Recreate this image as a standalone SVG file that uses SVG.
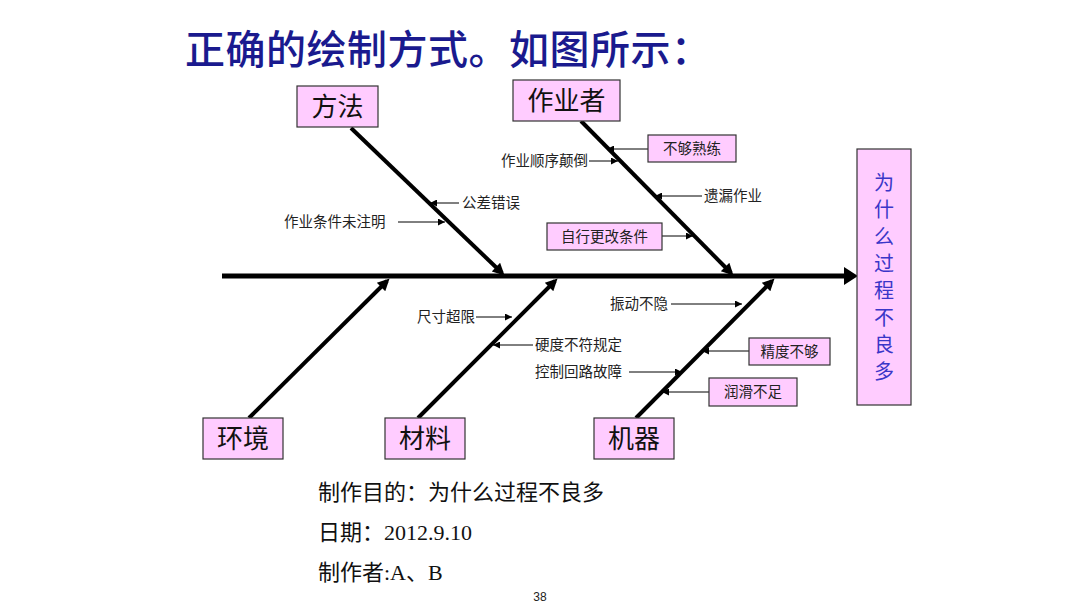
<svg xmlns="http://www.w3.org/2000/svg" width="1080" height="608" viewBox="0 0 1080 608">
<style>
.title{font-family:"Noto Sans CJK SC",sans-serif;font-size:40px;font-weight:500;fill:#1a1a8e}
.box{fill:#ffccff;stroke:#333;stroke-width:1.2}
.lbl{font-family:"Noto Sans CJK SC",sans-serif;font-size:26px;fill:#111;text-anchor:middle}
.sm{font-family:"Noto Sans CJK SC",sans-serif;font-size:14.5px;fill:#222}
.head{font-family:"Noto Sans CJK SC",sans-serif;font-size:20px;fill:#3a36c8;text-anchor:middle}
.note{font-family:"Liberation Serif","Noto Sans CJK SC",serif;font-size:22px;fill:#111}
.bone{stroke:#000;stroke-width:4;fill:none}
.sub{stroke:#000;stroke-width:1;fill:none}
</style>
<defs>
<marker id="big" viewBox="0 0 10 10" refX="7" refY="5" markerUnits="userSpaceOnUse" markerWidth="14" markerHeight="12" orient="auto">
<path d="M0,0 L10,5 L0,10 z" fill="#000"/>
</marker>
<marker id="sa" viewBox="0 0 10 10" refX="10" refY="5" markerUnits="userSpaceOnUse" markerWidth="9" markerHeight="7" orient="auto">
<path d="M0,0 L10,5 L0,10 z" fill="#000"/>
</marker>
</defs>
<rect width="1080" height="608" fill="#fff"/>
<text class="title" x="185" y="64" letter-spacing="0.5">正确的绘制方式。如图所示：</text>

<g id="connectors">
<line x1="222" y1="276" x2="846" y2="276" stroke="#000" stroke-width="5"/>
<path d="M844,267 L858,276 L844,285 z" fill="#000"/>
<line class="bone" x1="351" y1="128" x2="502" y2="273" marker-end="url(#big)"/>
<line class="bone" x1="581" y1="121" x2="731" y2="273" marker-end="url(#big)"/>
<line class="bone" x1="249" y1="418" x2="387" y2="281" marker-end="url(#big)"/>
<line class="bone" x1="418" y1="418" x2="555" y2="281" marker-end="url(#big)"/>
<line class="bone" x1="636" y1="418" x2="772" y2="281" marker-end="url(#big)"/>
<line class="sub" x1="459" y1="203" x2="430" y2="203" marker-end="url(#sa)"/>
<line class="sub" x1="398" y1="222" x2="445" y2="222" marker-end="url(#sa)"/>
<line class="sub" x1="589" y1="161" x2="618" y2="161" marker-end="url(#sa)"/>
<line class="sub" x1="648" y1="149" x2="607" y2="149" marker-end="url(#sa)"/>
<line class="sub" x1="702" y1="196" x2="655" y2="196" marker-end="url(#sa)"/>
<line class="sub" x1="662" y1="236" x2="693" y2="236" marker-end="url(#sa)"/>
<line class="sub" x1="476" y1="317" x2="512" y2="317" marker-end="url(#sa)"/>
<line class="sub" x1="533" y1="345" x2="493" y2="345" marker-end="url(#sa)"/>
<line class="sub" x1="629" y1="372" x2="682" y2="372" marker-end="url(#sa)"/>
<line class="sub" x1="671" y1="304" x2="742" y2="304" marker-end="url(#sa)"/>
<line class="sub" x1="749" y1="351" x2="702" y2="351" marker-end="url(#sa)"/>
<line class="sub" x1="709" y1="392" x2="662" y2="392" marker-end="url(#sa)"/>
</g>

<g id="head">
<rect class="box" x="857" y="149" width="54" height="256"/>
<text class="head" x="884" y="190">为</text>
<text class="head" x="884" y="217">什</text>
<text class="head" x="884" y="244">么</text>
<text class="head" x="884" y="271">过</text>
<text class="head" x="884" y="298">程</text>
<text class="head" x="884" y="325">不</text>
<text class="head" x="884" y="352">良</text>
<text class="head" x="884" y="379">多</text>
</g>

<g id="fangfa"><rect class="box" x="297" y="86" width="81" height="41"/><text class="lbl" x="337.5" y="116">方法</text></g>
<g id="zuoyezhe"><rect class="box" x="513" y="80" width="107" height="41"/><text class="lbl" x="566.5" y="110">作业者</text></g>
<g id="huanjing"><rect class="box" x="203" y="418" width="80" height="41"/><text class="lbl" x="243" y="448">环境</text></g>
<g id="cailiao"><rect class="box" x="385" y="418" width="80" height="41"/><text class="lbl" x="425" y="448">材料</text></g>
<g id="jiqi"><rect class="box" x="594" y="418" width="80" height="41"/><text class="lbl" x="634" y="448">机器</text></g>

<g id="c1"><text class="sm" x="462" y="208">公差错误</text></g>
<g id="c2"><text class="sm" x="284" y="227">作业条件未注明</text></g>
<g id="c3"><text class="sm" x="588" y="166" text-anchor="end">作业顺序颠倒</text></g>
<g id="c4"><rect class="box" x="648" y="135" width="88" height="27"/><text class="sm" x="692" y="154" text-anchor="middle">不够熟练</text></g>
<g id="c5"><text class="sm" x="704" y="201">遗漏作业</text></g>
<g id="c6"><rect class="box" x="547" y="223" width="115" height="27"/><text class="sm" x="604.5" y="242" text-anchor="middle">自行更改条件</text></g>
<g id="c7"><text class="sm" x="475" y="322" text-anchor="end">尺寸超限</text></g>
<g id="c8"><text class="sm" x="535" y="350">硬度不符规定</text></g>
<g id="c9"><text class="sm" x="535" y="377">控制回路故障</text></g>
<g id="c10"><text class="sm" x="610" y="309">振动不隐</text></g>
<g id="c11"><rect class="box" x="749" y="338" width="81" height="27"/><text class="sm" x="789.5" y="357" text-anchor="middle">精度不够</text></g>
<g id="c12"><rect class="box" x="709" y="378" width="88" height="28"/><text class="sm" x="753" y="397" text-anchor="middle">润滑不足</text></g>

<g id="notes">
<text class="note" x="318" y="500">制作目的：为什么过程不良多</text>
<text class="note" x="318" y="540">日期：2012.9.10</text>
<text class="note" x="318" y="580">制作者:A、B</text>
<text x="540" y="601" text-anchor="middle" font-family="Liberation Sans, sans-serif" font-size="12" fill="#222">38</text>
</g>
</svg>
